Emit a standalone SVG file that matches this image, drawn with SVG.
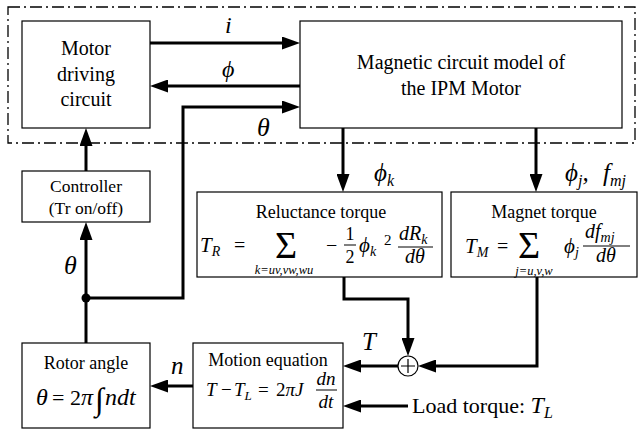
<svg xmlns="http://www.w3.org/2000/svg" width="639" height="431" viewBox="0 0 639 431" font-family="'Liberation Serif', 'Times New Roman', 'DejaVu Serif', serif">
<defs>
<style>
text{font-family:'Liberation Serif','Times New Roman','DejaVu Serif',serif;fill:#000}
.box{fill:#fff;stroke:#000;stroke-width:1.2}
.ln{fill:none;stroke:#000;stroke-width:3}
.i{font-style:italic}
.m{text-anchor:middle}
</style>
<marker id="ah" viewBox="0 0 18 13" refX="9" refY="6.5" markerWidth="18" markerHeight="13" markerUnits="userSpaceOnUse" orient="auto">
<path d="M0,0 L18,6.5 L0,13 z" fill="#000"/>
</marker>
</defs>
<rect x="0" y="0" width="639" height="431" fill="#fff"/>
<rect x="8" y="7" width="627" height="136" fill="none" stroke="#000" stroke-width="1.3" stroke-dasharray="12,4,2,4"/>

<g id="motor-driving">
<rect class="box" x="22" y="21" width="128" height="107"/>
<text class="m" x="86" y="55" font-size="20">Motor</text>
<text class="m" x="86" y="81" font-size="20">driving</text>
<text class="m" x="86" y="106" font-size="20">circuit</text>
</g>
<g id="magnetic-model">
<rect class="box" x="300" y="21" width="322" height="107"/>
<text class="m" x="461" y="69" font-size="20">Magnetic circuit model of</text>
<text class="m" x="461" y="95" font-size="20">the IPM Motor</text>
</g>
<g id="controller">
<rect class="box" x="22" y="171" width="128" height="51"/>
<text class="m" x="86" y="192" font-size="17.5">Controller</text>
<text class="m" x="86" y="214" font-size="17.5">(Tr on/off)</text>
</g>
<g id="reluctance">
<rect class="box" x="197" y="192" width="245" height="85"/>
<text class="m" x="321" y="218" font-size="18">Reluctance torque</text>
<text class="i" x="200" y="252" font-size="21">T<tspan font-size="14" dy="4">R</tspan></text>
<text x="234" y="252" font-size="20">=</text>
<text x="275" y="258" font-size="38">Σ</text>
<text class="i m" x="284" y="274" font-size="12.5">k=uv,vw,wu</text>
<text x="326" y="252" font-size="20">−</text>
<text class="m" x="350" y="240" font-size="18">1</text>
<line x1="344" y1="245" x2="356" y2="245" stroke="#000" stroke-width="1"/>
<text class="m" x="350" y="263" font-size="18">2</text>
<text class="i" x="359" y="252" font-size="21">ϕ<tspan font-size="14" dy="4">k</tspan></text>
<text x="384" y="245" font-size="15">2</text>
<text class="i" x="399" y="240" font-size="20">dR<tspan font-size="14" dy="4">k</tspan></text>
<line x1="398" y1="247" x2="433" y2="247" stroke="#000" stroke-width="1"/>
<text class="i m" x="415" y="263" font-size="20">dθ</text>
</g>
<g id="magnet">
<rect class="box" x="451" y="192" width="186" height="85"/>
<text class="m" x="544" y="218" font-size="18">Magnet torque</text>
<text class="i" x="465" y="253" font-size="21">T<tspan font-size="14" dy="4">M</tspan></text>
<text x="497" y="253" font-size="20">=</text>
<text x="518" y="258" font-size="38">Σ</text>
<text class="i m" x="534" y="275" font-size="12.5">j=u,v,w</text>
<text class="i" x="564" y="253" font-size="21">ϕ<tspan font-size="14" dy="4">j</tspan></text>
<text class="i" x="585" y="238" font-size="20">df<tspan font-size="14" dy="4">mj</tspan></text>
<line x1="583" y1="246" x2="630" y2="246" stroke="#000" stroke-width="1"/>
<text class="i m" x="606" y="262" font-size="20">dθ</text>
</g>
<g id="rotor-angle">
<rect class="box" x="22" y="343" width="128" height="85"/>
<text class="m" x="86" y="369" font-size="18">Rotor angle</text>
<text class="i" x="36" y="405" font-size="24">θ</text>
<text x="52" y="405" font-size="22">= 2</text>
<text class="i" x="81" y="405" font-size="24">π</text>
<text x="95" y="410" font-size="32">∫</text>
<text class="i" x="105" y="405" font-size="24">ndt</text>
</g>
<g id="motion-equation">
<rect class="box" x="193" y="343" width="150" height="85"/>
<text class="m" x="268" y="366" font-size="18">Motion equation</text>
<text class="i" x="206" y="396" font-size="19">T</text>
<text x="221" y="396" font-size="19">−</text>
<text class="i" x="234" y="396" font-size="19">T<tspan font-size="13" dy="4">L</tspan></text>
<text x="258" y="396" font-size="19">=</text>
<text x="276" y="396" font-size="19">2<tspan class="i">πJ</tspan></text>
<text class="i m" x="326" y="385" font-size="19">dn</text>
<line x1="316" y1="390" x2="337" y2="390" stroke="#000" stroke-width="1"/>
<text class="i m" x="326" y="408" font-size="19">dt</text>
</g>
<g id="sum">
<circle cx="408" cy="366" r="10" fill="#fff" stroke="#000" stroke-width="1.2"/>
<path d="M401,366 H415 M408,359 V373" stroke="#000" stroke-width="1.2"/>
</g>
<g id="load">
<text x="412" y="413" font-size="22">Load torque: <tspan class="i" font-size="24">T</tspan><tspan class="i" font-size="16" dy="5">L</tspan></text>
</g>

<g id="connectors">
<path class="ln" d="M150,43 H291" marker-end="url(#ah)"/>
<path class="ln" d="M300,86 H159" marker-end="url(#ah)"/>
<path class="ln" d="M86,298 H183 V107 H291" marker-end="url(#ah)"/>
<path class="ln" d="M86,343 V231" marker-end="url(#ah)"/>
<path class="ln" d="M86,171 V137" marker-end="url(#ah)"/>
<circle cx="86" cy="298" r="4.5" fill="#000"/>
<path class="ln" d="M343,128 V183" marker-end="url(#ah)"/>
<path class="ln" d="M536,128 V183" marker-end="url(#ah)"/>
<path class="ln" d="M344,277 V299 H408 V347" marker-end="url(#ah)"/>
<path class="ln" d="M537,277 V366 H427" marker-end="url(#ah)"/>
<path class="ln" d="M398,366 H352" marker-end="url(#ah)"/>
<path class="ln" d="M408,406 H352" marker-end="url(#ah)"/>
<path class="ln" d="M193,386 H159" marker-end="url(#ah)"/>
</g>
<g id="labels">
<text class="i" x="225" y="33" font-size="24">i</text>
<text class="i" x="222" y="77" font-size="24">ϕ</text>
<text class="i" x="257" y="136" font-size="26">θ</text>
<text class="i" x="64" y="274" font-size="26">θ</text>
<text class="i" x="374" y="181" font-size="25">ϕ<tspan font-size="16" dy="5">k</tspan></text>
<text class="i" x="565" y="181" font-size="25">ϕ<tspan font-size="16" dy="5">j</tspan><tspan dy="-5">,</tspan></text>
<text class="i" x="603" y="181" font-size="25">f<tspan font-size="16" dy="5">mj</tspan></text>
<text class="i" x="362" y="350" font-size="25">T</text>
<text class="i" x="171" y="374" font-size="25">n</text>
</g>
</svg>
